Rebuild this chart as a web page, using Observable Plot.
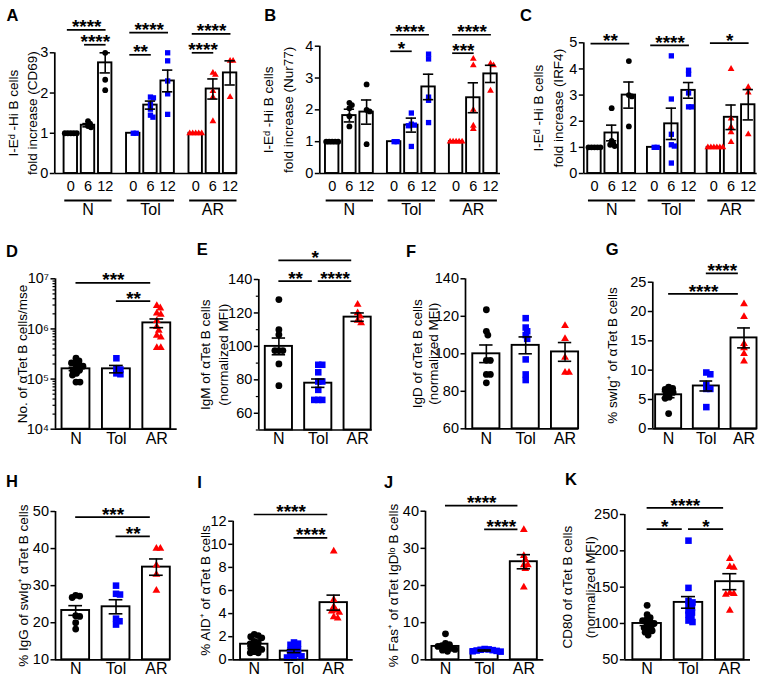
<!DOCTYPE html>
<html><head><meta charset="utf-8">
<script src="https://cdn.jsdelivr.net/npm/d3@7"></script>
<script src="https://cdn.jsdelivr.net/npm/@observablehq/plot@0.6"></script>
<style>
html,body{margin:0;padding:0;background:#fff;}
#fig{position:relative;width:771px;height:684px;background:#fff;overflow:hidden;font-family:'Liberation Sans',Arial,Helvetica,sans-serif;}
.letter{position:absolute;font-weight:bold;font-size:16.5px;line-height:1;color:#000;}
</style></head><body><div id="fig"></div>
<script>
// ================= DATA =================
const groups = ["N", "Tol", "AR"];
const times = [0, 6, 12];
const groupColors = ["#000000", "#0000ff", "#ff0000"];
const groupSymbols = ["circle", "square", "triangle"];

// Panel A: CD69 fold increase  [group][time]
const cd69Means = [[1, 1.2, 2.75], [1, 1.7, 2.3], [1, 2.1, 2.5]];
const cd69Sems = [[0, 0.04, 0.25], [0, 0.1, 0.27], [0, 0.25, 0.3]];
const cd69Points = [
  [[1, 1, 1, 1, 1], [1.3, 1.24, 1.18, 1.15], [3.0, 2.33, 2.07]],
  [[1, 1], [1.9, 1.88, 1.72, 1.6, 1.45, 1.4], [3.0, 2.8, 2.3, 1.98, 1.47]],
  [[1, 1, 1, 1, 1], [2.5, 2.45, 2.05, 1.9, 1.3], [2.8, 2.8, 1.9]]
];
const cd69Sig = [
  {g: 0, from: 0, to: 2, label: "****", level: 3.57},
  {g: 0, from: 1, to: 2, label: "****", level: 3.2},
  {g: 1, from: 0, to: 2, label: "****", level: 3.5},
  {g: 1, from: 0, to: 1, label: "**", level: 2.95},
  {g: 2, from: 0, to: 2, label: "****", level: 3.47},
  {g: 2, from: 0, to: 1, label: "****", level: 3.0}
];

// Panel B: Nur77 fold increase
const nur77Means = [[1, 1.82, 1.93], [1, 1.52, 2.72], [1, 2.38, 3.13]];
const nur77Sems = [[0, 0.2, 0.38], [0, 0.22, 0.4], [0, 0.47, 0.27]];
const nur77Points = [
  [[1, 1, 1, 1, 1], [2.22, 2.15, 2.05, 1.8, 1.48], [2.8, 2.0, 1.95, 0.92]],
  [[1, 1], [1.9, 1.55, 1.52, 1.5, 0.85], [3.75, 3.6, 2.4, 2.3, 1.6]],
  [[1, 1, 1, 1, 1], [3.6, 3.4, 2.0, 1.5, 1.4], [3.45, 3.4, 2.6]]
];
const nur77Sig = [
  {g: 1, from: 0, to: 2, label: "****", level: 4.36},
  {g: 1, from: 0, to: 1, label: "*", level: 3.84},
  {g: 2, from: 0, to: 2, label: "****", level: 4.36},
  {g: 2, from: 0, to: 1, label: "***", level: 3.78}
];

// Panel C: IRF4 fold increase
const irf4Means = [[1, 1.55, 3.0], [1, 1.9, 3.18], [1, 2.15, 2.63]];
const irf4Sems = [[0, 0.3, 0.5], [0, 0.6, 0.3], [0, 0.47, 0.58]];
const irf4Points = [
  [[1, 1, 1, 1, 1], [2.5, 1.25, 1.15, 1.1, 1.05], [4.3, 3.0, 2.95, 1.8]],
  [[1, 1], [4.5, 2.85, 1.5, 1.1, 1.05, 0.4], [3.95, 3.8, 3.08, 2.55, 2.55]],
  [[1, 1, 1, 1, 1, 1], [4.0, 2.1, 1.78, 1.58, 1.2], [3.3, 3.1, 1.5]]
];
const irf4Sig = [
  {g: 0, from: 0, to: 2, label: "**", level: 4.97},
  {g: 1, from: 0, to: 2, label: "****", level: 4.9},
  {g: 2, from: 0, to: 2, label: "*", level: 4.99}
];

// Panel D: number of aTet B cells per mouse (log)
const countMeans = [1.6e5, 1.6e5, 1.32e6];
const countSems = [1.2e4, 2.7e4, 2.6e5];
const countPoints = [
  [2.6e5, 2.3e5, 2.1e5, 2.1e5, 1.9e5, 1.8e5, 1.65e5, 1.5e5, 1.45e5, 1.3e5, 1.2e5, 8.7e4, 8.7e4],
  [2.6e5, 1.6e5, 1.55e5, 1.3e5, 1.25e5],
  [2.9e6, 2.6e6, 2.05e6, 1.95e6, 1.45e6, 1.1e6, 9.3e5, 7.4e5, 6.8e5, 4.2e5, 4.2e5]
];
const countTicks = [1e4, 1e5, 1e6, 1e7];
const countTickLabels = ["10\u2074", "10\u2075", "10\u2076", "10\u2077"];
const countSig = [{from: 0, to: 2, label: "***", level: 8.3e6}, {from: 1, to: 2, label: "**", level: 3.6e6}];

// Panel E: IgM
const igmMeans = [100, 78, 117.5];
const igmSems = [5, 2.5, 2.5];
const igmPoints = [
  [128, 110, 107, 97.5, 97.5, 97.5, 89.5, 76.5],
  [89, 89, 84.5, 79, 79, 74, 68, 68, 68],
  [125, 120, 118, 115.5, 114]
];
const igmSig = [{from: 0, to: 2, label: "*", level: 151.4}, {from: 0, to: 1, label: "**", level: 139}, {from: 1, to: 2, label: "****", level: 139}];

// Panel F: IgD
const igdMeans = [100, 104.5, 101];
const igdSems = [4.7, 4.5, 5];
const igdPoints = [
  [123.5, 112, 110, 96.5, 96.5, 89, 89, 84.5],
  [119, 114, 112, 110, 108, 97, 89, 86],
  [115, 108, 98, 90, 90]
];
const igdSig = [];

// Panel G: % swIg+
const swigMeans = [5.8, 7.3, 15.5];
const swigSems = [0.5, 0.85, 1.7];
const swigPoints = [
  [7.1, 6.9, 6.7, 6.4, 6.2, 5.9, 5.4, 5.2, 2.6],
  [9.6, 9.3, 7.5, 6.8, 6.8, 3.7],
  [21.3, 19.1, 14.5, 13.8, 12.8, 11.5]
];
const swigSig = [{from: 1, to: 2, label: "****", level: 26.5}, {from: 0, to: 2, label: "****", level: 23}];

// Panel H: % IgG of swIg+
const iggMeans = [23.3, 24.3, 35];
const iggSems = [1.3, 1.9, 2.2];
const iggPoints = [
  [27.4, 27.2, 26.8, 21.9, 21.7, 20.0, 18.3],
  [30, 27.8, 27.6, 21.1, 20.4, 19.5],
  [40, 40, 35.5, 33, 28.7]
];
const iggSig = [{from: 0, to: 2, label: "***", level: 48.5}, {from: 1, to: 2, label: "**", level: 43.3}];

// Panel I: % AID+
const aidMeans = [1.35, 0.75, 4.95];
const aidSems = [0.15, 0.13, 0.65];
const aidPoints = [
  [2.2, 2.1, 2.0, 1.9, 1.6, 1.5, 1.4, 1.2, 1.1, 1.0, 0.9, 0.7, 0.6, 0.6],
  [1.5, 1.4, 1.3, 1.0, 0.9, 0.8, 0.6, 0.5, 0.4, 0.3, 0.2, 0.2],
  [9.4, 5.2, 4.6, 4.3, 4.2, 4.1, 3.7, 3.6]
];
const aidSig = [{from: 0, to: 2, label: "****", level: 12.58}, {from: 1, to: 2, label: "****", level: 10.56}];

// Panel J: % Fas+ of IgD lo
const fasMeans = [3.6, 2.5, 26.4];
const fasSems = [0.45, 0.15, 1.9];
const fasPoints = [
  [7, 4.4, 4.1, 3.8, 3.6, 3.3, 3.1, 2.8, 2.6, 2.3],
  [2.9, 2.8, 2.7, 2.6, 2.5, 2.4, 2.3, 2.2],
  [35, 28, 27, 25.5, 25.5, 24.5, 19.5]
];
const fasSig = [{from: 0, to: 2, label: "****", level: 41.5}, {from: 1, to: 2, label: "****", level: 35.1}];

// Panel K: CD80
const cd80Means = [100, 129, 157.5];
const cd80Sems = [3, 8, 11];
const cd80Points = [
  [125, 112, 108, 105, 104, 102, 100, 98, 96, 94, 92, 90, 88, 84],
  [214, 149, 131, 129, 125, 122, 118, 115, 112, 108, 104, 102],
  [189, 178, 177, 142, 141, 140, 118]
];
const cd80Sig = [{from: 0, to: 2, label: "****", level: 259}, {from: 0, to: 1, label: "*", level: 230}, {from: 1, to: 2, label: "*", level: 230}];

// ================= RENDERING =================
const FONT = "'Liberation Sans', Arial, Helvetica, sans-serif";
const TICK_FS = 14.5, TITLE_FS = 13.5, CAT_FS = 16, STAR_FS = 19;
const fig = document.getElementById("fig");

// grouped beeswarm: spreads points sharing one x position horizontally (pixels), using Plot's scales
function swarmX(spacing, options) {
  const init = (data, facets, channels, scales) => {
    const Xv = channels.x.value, Yv = channels.y.value, n = Xv.length;
    const X = new Float64Array(n), Y = new Float64Array(n), off = new Float64Array(n), out = new Float64Array(n);
    for (let i = 0; i < n; ++i) { X[i] = scales.x(Xv[i]); Y[i] = scales.y(Yv[i]); }
    for (const I of facets) {
      for (const [cx, idx] of d3.group(I, i => X[i])) {
        const placed = [];
        for (const i of idx) {
          let chosen = 0;
          for (let k = 0; k < 600; ++k) {
            const cand = (k % 2 ? 1 : -1) * Math.ceil(k / 2) * 0.5;
            let ok = true;
            for (const j of placed) {
              const dx = cand - off[j], dy = Y[i] - Y[j];
              if (dx * dx + dy * dy < spacing * spacing) { ok = false; break; }
            }
            if (ok) { chosen = cand; break; }
          }
          off[i] = chosen; out[i] = cx + chosen; placed.push(i);
        }
      }
    }
    return {data, facets, channels: {x: {value: out}}};
  };
  return typeof Plot.initializer === "function" ? Plot.initializer(options, init) : {...options, initializer: init};
}

const plainFormat = d => String(d);

function buildPanel(cfg) {
  const [bl, bt, bwid, bhei] = cfg.box;
  const [fl, ft, fr, fb] = cfg.frame;
  const [y0, y1] = cfg.yDomain;
  const half = cfg.barWidth / 2;
  const bars = cfg.bars, pts = cfg.points;
  const errs = bars.filter(d => d.sem > 0);
  const caps = errs.flatMap(d => [{x: d.x, y: d.mean - d.sem}, {x: d.x, y: d.mean + d.sem}]);
  const marks = [
    Plot.rectY(bars, {x1: d => d.x - half, x2: d => d.x + half, y1: y0, y2: d => d.mean, fill: "white", stroke: "black", strokeWidth: 1.9})
  ];
  groups.forEach((g, gi) => {
    marks.push(Plot.dot(pts.filter(p => p.g === gi), swarmX(cfg.spacing, {
      x: d => d.x, y: d => d.v, fill: groupColors[gi], symbol: groupSymbols[gi], r: cfg.radii[gi], stroke: "none"
    })));
  });
  marks.push(
    Plot.ruleX(errs, {x: d => d.x, y1: d => d.mean - d.sem, y2: d => d.mean + d.sem, stroke: "black", strokeWidth: 1.6}),
    Plot.ruleY(caps, {y: d => d.y, x1: d => d.x - cfg.capHalf, x2: d => d.x + cfg.capHalf, stroke: "black", strokeWidth: 1.6}),
    Plot.ruleX([cfg.xDomain[0]], {x: d => d, y1: y0, y2: y1, stroke: "black", strokeWidth: 1.7}),
    Plot.ruleY([y0], {y: d => d, x1: cfg.xDomain[0], x2: cfg.xDomain[1], stroke: "black", strokeWidth: 1.7}),
    Plot.axisY({ticks: cfg.yTicks, tickFormat: cfg.yFormat || plainFormat, tickSize: 4.5, tickPadding: 2, fontSize: TICK_FS, strokeWidth: 1.5, label: null})
  );
  if (cfg.yMinor) marks.push(Plot.axisY({ticks: cfg.yMinor, tickFormat: () => "", tickSize: 2.5, tickPadding: 0, strokeWidth: 1.2, label: null}));
  // significance brackets
  marks.push(
    Plot.ruleY(cfg.sigs, {y: d => d.level, x1: d => d.x1, x2: d => d.x2, stroke: "black", strokeWidth: 1.7}),
    Plot.text(cfg.sigs, {x: d => (d.x1 + d.x2) / 2, y: d => d.level, text: d => d.label, fontSize: STAR_FS, fontWeight: "bold", dy: -2.5})
  );
  // y titles
  cfg.titles.forEach(t => {
    marks.push(Plot.text([t.text], {text: d => d, frameAnchor: "left", textAnchor: "middle", lineAnchor: "middle", rotate: -90, dx: t.x - fl, fontSize: TITLE_FS}));
  });
  marks.push(...(cfg.extra || []));
  const svg = Plot.plot({
    width: bwid, height: bhei,
    marginLeft: fl - bl, marginTop: ft - bt, marginRight: bl + bwid - fr, marginBottom: bt + bhei - fb,
    x: {domain: cfg.xDomain, axis: null},
    y: {type: cfg.yType || "linear", domain: cfg.yDomain},
    style: {fontFamily: FONT, fontSize: TICK_FS + "px", overflow: "visible", background: "transparent", maxWidth: "none", position: "absolute", left: bl + "px", top: bt + "px", color: "black"},
    marks
  });
  fig.appendChild(svg);
}

// ---- time-course panels (A, B, C) ----
function timePanel(means, sems, points, sigs, layout) {
  const G = layout.groupStep;
  const pos = (gi, ti) => gi * G + ti;
  const bars = [], pts = [];
  groups.forEach((g, gi) => times.forEach((t, ti) => {
    bars.push({x: pos(gi, ti), mean: means[gi][ti], sem: sems[gi][ti], t});
    points[gi][ti].forEach(v => pts.push({x: pos(gi, ti), v, g: gi}));
  }));
  const sg = sigs.map(s => ({...s, x1: pos(s.g, s.from) - 0.2, x2: pos(s.g, s.to) + 0.05}));
  const grp = groups.map((g, gi) => ({g, x1: pos(gi, 0) - 0.35, x2: pos(gi, 2) + 0.4, xc: pos(gi, 1)}));
  buildPanel({
    ...layout, bars, points: pts, sigs: sg,
    barWidth: 0.78, capHalf: 0.3, spacing: 3.0, radii: [2.9, 3.0, 2.5],
    extra: [
      Plot.text(bars, {x: d => d.x, text: d => String(d.t), frameAnchor: "bottom", dy: 17, fontSize: TICK_FS}),
      Plot.ruleY(grp, {y: layout.yDomain[0], x1: d => d.x1, x2: d => d.x2, dy: 27, stroke: "black", strokeWidth: 2}),
      Plot.text(grp, {x: d => d.xc, text: d => d.g, frameAnchor: "bottom", dy: 41, fontSize: CAT_FS})
    ]
  });
}

const titleLine1 = "I-E\u1D48 -Hi B cells";
timePanel(cd69Means, cd69Sems, cd69Points, cd69Sig, {
  box: [0, 0, 255, 235], frame: [54.3, 52.3, 237, 173], groupStep: 3.63, xDomain: [-0.93, 9.69],
  yDomain: [0, 3], yTicks: [0, 1, 2, 3],
  titles: [{text: titleLine1, x: 13}, {text: "fold increase (CD69)", x: 32}]
});
timePanel(nur77Means, nur77Sems, nur77Points, nur77Sig, {
  box: [255, 0, 255, 235], frame: [319.3, 45.7, 500, 173], groupStep: 3.6, xDomain: [-0.72, 9.78],
  yDomain: [0, 4], yTicks: [0, 1, 2, 3, 4],
  titles: [{text: titleLine1, x: 268}, {text: "fold increase (Nur77)", x: 288}]
});
timePanel(irf4Means, irf4Sems, irf4Points, irf4Sig, {
  box: [510, 0, 261, 235], frame: [583.3, 42.3, 756.7, 173], groupStep: 3.47, xDomain: [-0.62, 9.46],
  yDomain: [0, 5], yTicks: [0, 1, 2, 3, 4, 5],
  titles: [{text: titleLine1, x: 538}, {text: "fold increase (IRF4)", x: 558}]
});

// ---- group panels (D–K) ----
function groupPanel(means, sems, points, sigs, layout) {
  const bars = groups.map((g, i) => ({x: i, mean: means[i], sem: sems[i]}));
  const pts = points.flatMap((arr, gi) => arr.map(v => ({x: gi, v, g: gi})));
  const sg = sigs.map(s => ({...s, x1: s.from, x2: s.to - 0.15}));
  buildPanel({
    ...layout, bars, points: pts, sigs: sg,
    barWidth: 0.69, capHalf: 0.17, spacing: 4.0, radii: [3.4, 3.7, 2.9],
    extra: [
      Plot.text(groups, {x: (d, i) => i, text: d => d, frameAnchor: "bottom", dy: layout.labelDy, fontSize: CAT_FS})
    ]
  });
}

const logMinor = [1e4, 1e5, 1e6].flatMap(b => [2, 3, 4, 5, 6, 7, 8, 9].map(m => m * b));
const countLabelOf = new Map(countTicks.map((t, i) => [t, countTickLabels[i]]));
groupPanel(countMeans, countSems, countPoints, countSig, {
  box: [0, 235, 190, 215], frame: [55, 278.3, 176.7, 428.7], xDomain: [-0.507, 2.505],
  yType: "log", yDomain: [1e4, 1e7], yTicks: countTicks, yFormat: d => countLabelOf.get(d), yMinor: logMinor,
  titles: [{text: "No. of \u03B1Tet B cells/mse", x: 21.7}], labelDy: 15
});
groupPanel(igmMeans, igmSems, igmPoints, igmSig, {
  box: [190, 235, 195, 215], frame: [258.3, 279, 371.7, 429.5], xDomain: [-0.51, 2.37],
  yDomain: [50, 140], yTicks: [60, 80, 100, 120, 140], yMinor: [50, 70, 90, 110, 130],
  titles: [{text: "IgM of \u03B1Tet B cells", x: 205}, {text: "(normalized MFI)", x: 223.3}], labelDy: 14
});
groupPanel(igdMeans, igdSems, igdPoints, igdSig, {
  box: [385, 235, 190, 215], frame: [465, 278.3, 578.3, 428.3], xDomain: [-0.53, 2.35],
  yDomain: [60, 140], yTicks: [60, 80, 100, 120, 140],
  titles: [{text: "IgD of \u03B1Tet B cells", x: 416.7}, {text: "(normalized MFI)", x: 433.3}], labelDy: 15
});
groupPanel(swigMeans, swigSems, swigPoints, swigSig, {
  box: [575, 235, 196, 215], frame: [652.3, 281.7, 756.7, 428.3], xDomain: [-0.42, 2.35],
  yDomain: [0, 25], yTicks: [0, 5, 10, 15, 20, 25],
  titles: [{text: "% swIg\u207A of \u03B1Tet B cells", x: 611.7}], labelDy: 15
});
groupPanel(iggMeans, iggSems, iggPoints, iggSig, {
  box: [0, 450, 190, 234], frame: [55, 511, 170, 659.3], xDomain: [-0.5, 2.35],
  yDomain: [10, 50], yTicks: [10, 20, 30, 40, 50],
  titles: [{text: "% IgG of swIg\u207A \u03B1Tet B cells", x: 23.3}], labelDy: 14
});
groupPanel(aidMeans, aidSems, aidPoints, aidSig, {
  box: [190, 450, 195, 234], frame: [232.7, 520.7, 352.7, 659.3], xDomain: [-0.53, 2.49],
  yDomain: [0, 12], yTicks: [0, 2, 4, 6, 8, 10, 12],
  titles: [{text: "% AID\u207A of \u03B1Tet B cells", x: 205}], labelDy: 14
});
groupPanel(fasMeans, fasSems, fasPoints, fasSig, {
  box: [385, 450, 190, 234], frame: [425, 510.7, 543.3, 659.3], xDomain: [-0.51, 2.51],
  yDomain: [0, 40], yTicks: [0, 10, 20, 30, 40],
  titles: [{text: "% Fas\u207A of \u03B1Tet IgD\u02E1\u1D52 B cells", x: 393.3}], labelDy: 14
});
groupPanel(cd80Means, cd80Sems, cd80Points, cd80Sig, {
  box: [575, 450, 196, 234], frame: [624.3, 514, 750, 659.3], xDomain: [-0.54, 2.5],
  yDomain: [50, 250], yTicks: [50, 100, 150, 200, 250],
  titles: [{text: "CD80 of \u03B1Tet B cells", x: 566.7}, {text: "(normalized MFI)", x: 590}], labelDy: 14
});

// panel letters
const letters = [
  ["A", 6.5, 9.3], ["B", 264.3, 9.3], ["C", 520, 9.3],
  ["D", 6, 245], ["E", 196.7, 243.3], ["F", 406, 245], ["G", 605.7, 243.3],
  ["H", 6, 475], ["I", 197.3, 476], ["J", 384, 476], ["K", 565, 473.3]
];
letters.forEach(([t, x, y]) => {
  const d = document.createElement("div");
  d.className = "letter";
  d.textContent = t;
  d.style.left = x + "px";
  d.style.top = (y - 2.3) + "px";
  fig.appendChild(d);
});
</script></body></html>
